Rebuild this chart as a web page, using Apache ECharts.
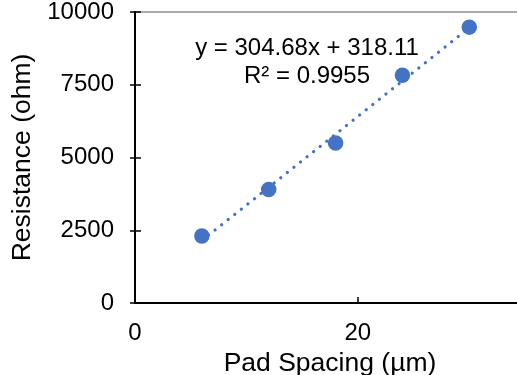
<!DOCTYPE html>
<html>
<head>
<meta charset="utf-8">
<script src="https://cdn.jsdelivr.net/npm/echarts@6/dist/echarts.min.js"></script>
<style>html,body{margin:0;padding:0;background:#fff;}#c{width:517px;height:375px;}</style>
</head>
<body>
<div id="c"></div>
<script>
var padSpacing = [6, 12, 18, 24, 30];
var resistance = [2300, 3900, 5500, 7830, 9480];
var xTicks = [0, 20];
var yTicks = [0, 2500, 5000, 7500, 10000];
var slope = 304.68, intercept = 318.11, r2 = 0.9955;

var pts = padSpacing.map(function (x, i) { return [x, resistance[i]]; });
var xMin = Math.min.apply(null, padSpacing), xMax = Math.max.apply(null, padSpacing);
var trend = [[xMin, slope * xMin + intercept], [xMax, slope * xMax + intercept]];

var FONT = 'Liberation Sans, Arial, sans-serif';
var plain = function (v) { return String(v); };
var chart = echarts.init(document.getElementById('c'), null, { renderer: 'canvas' });
chart.setOption({
  animation: false,
  backgroundColor: '#fff',
  textStyle: { fontFamily: FONT },
  grid: { left: 135, top: 12, width: 390, height: 291, containLabel: false, outerBoundsMode: 'none',
    show: true, borderColor: '#5a5a5a', borderWidth: 1.2, backgroundColor: 'transparent' },
  xAxis: {
    type: 'value', min: 0, max: 35, interval: 20,
    name: 'Pad Spacing (µm)', nameLocation: 'middle', nameGap: 37,
    nameTextStyle: { fontSize: 26.5, color: '#000', fontFamily: FONT },
    axisLine: { show: true, onZero: false, lineStyle: { color: '#000', width: 2 } },
    axisTick: { show: true, inside: true, length: 6, customValues: xTicks, lineStyle: { color: '#000', width: 1.5 } },
    axisLabel: { fontSize: 24, color: '#000', margin: 18, fontFamily: FONT, customValues: xTicks, formatter: plain },
    splitLine: { show: false }
  },
  yAxis: [{
    type: 'value', min: 0, max: 10000, interval: 2500,
    name: 'Resistance (ohm)', nameLocation: 'middle', nameGap: 93,
    nameTextStyle: { fontSize: 26.5, color: '#000', fontFamily: FONT },
    axisLine: { show: true, onZero: false, lineStyle: { color: '#000', width: 2 } },
    axisTick: { show: true, inside: false, length: 5, customValues: yTicks, lineStyle: { color: '#000', width: 1.5 } },
    axisLabel: { fontSize: 24, color: '#000', margin: 21, fontFamily: FONT, customValues: yTicks, formatter: plain },
    splitLine: { show: false }
  }, {
    type: 'value', min: 0, max: 10000, interval: 2500, position: 'left', offset: 0,
    axisLine: { show: false },
    axisTick: { show: true, inside: true, length: 6, customValues: yTicks, lineStyle: { color: '#000', width: 1.5 } },
    axisLabel: { show: false },
    splitLine: { show: false }
  }],
  graphic: [{
    type: 'text', x: 307, y: 62,
    style: {
      text: 'y = ' + slope + 'x + ' + intercept + '\nR² = ' + r2.toFixed(4),
      x: 0, y: 0,
      fontSize: 24, fontFamily: FONT, fill: '#000',
      align: 'center', verticalAlign: 'middle', lineHeight: 28
    }
  }],
  series: [{
    type: 'line', data: trend, showSymbol: false, symbol: 'none',
    lineStyle: { color: '#4472C4', width: 3.2, type: [0.1, 8.3], cap: 'round' },
    z: 2, silent: true
  }, {
    type: 'scatter', data: pts, symbol: 'circle', symbolSize: 15.5,
    itemStyle: { color: '#4472C4', opacity: 1 }, z: 3
  }]
});
</script>
</body>
</html>
